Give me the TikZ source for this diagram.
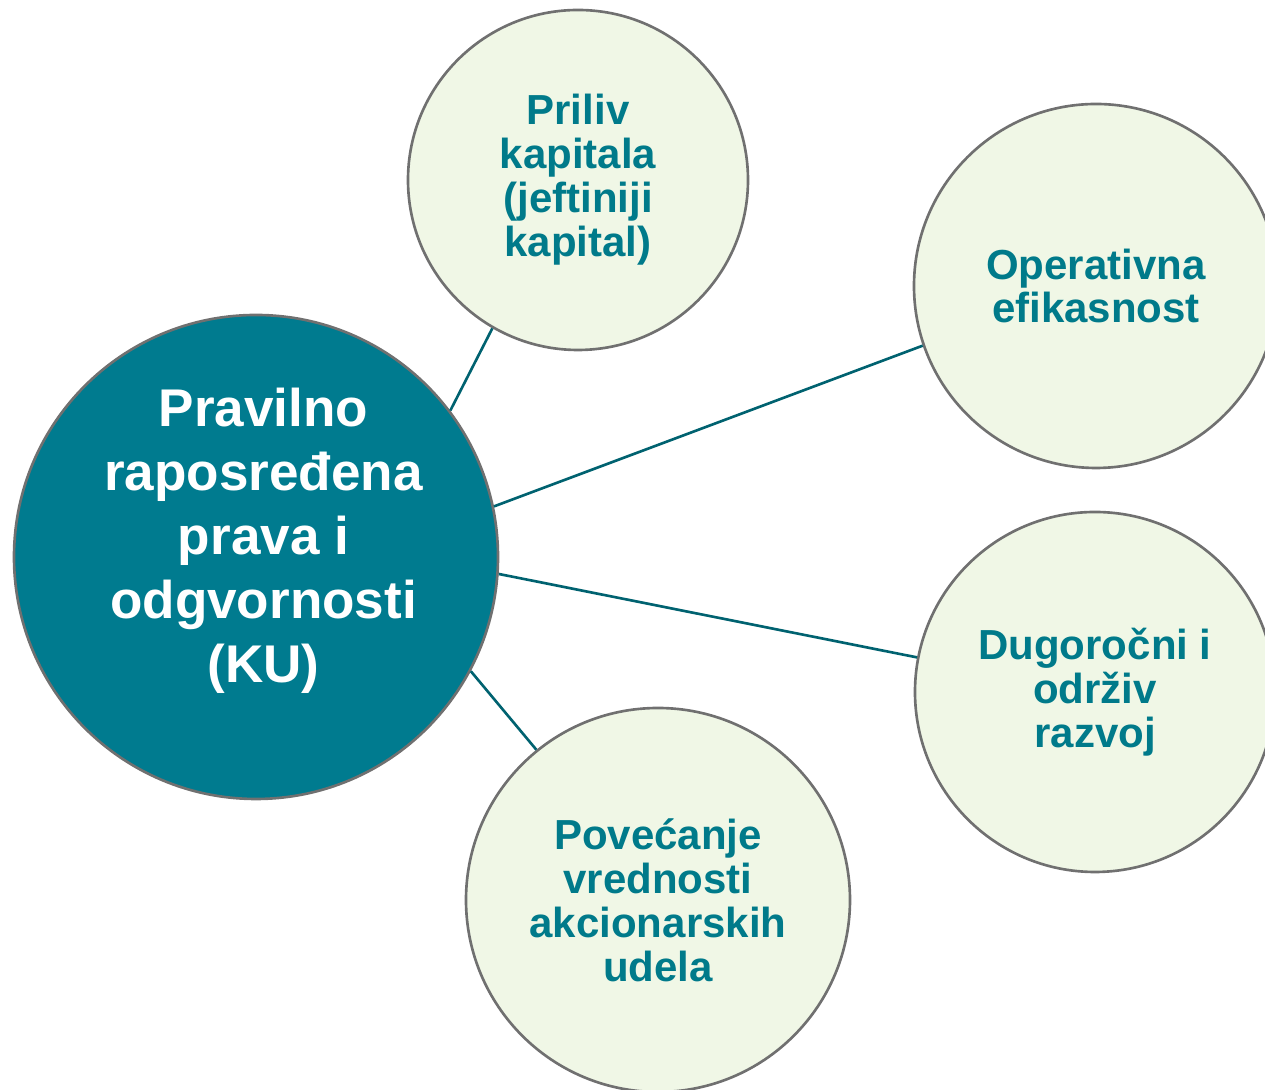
\documentclass[tikz,border=0pt]{standalone}
\usepackage{fontspec}
\setmainfont{Liberation Sans}
\usepackage{tikz}
\usetikzlibrary{positioning}

\definecolor{kuteal}{RGB}{0,123,143}
\definecolor{kutext}{RGB}{0,122,138}
\definecolor{kuline}{RGB}{0,98,112}
\definecolor{kuedge}{RGB}{112,112,112}
\definecolor{kugreen}{RGB}{240,247,230}

\tikzset{
  bigcirc/.style={circle,draw=kuedge,line width=1.5pt,fill=kuteal,inner sep=0pt},
  bigtext/.style={text=white,align=center,font=\bfseries\fontsize{30.2}{36.4}\selectfont},
  smallcirc/.style={circle,draw=kuedge,line width=1.5pt,fill=kugreen,text=kutext,
    inner sep=0pt,align=center,font=\bfseries\fontsize{23.9}{25}\selectfont},
  link/.style={draw=kuline,line width=1.5pt}
}

\begin{document}
\begin{tikzpicture}
\useasboundingbox (0,0) rectangle (25.3,21.8);
\clip (0,0) rectangle (25.3,21.8);

% Center circle
\node[bigcirc,minimum size=9.68cm] (ku) at (5.12,10.66) {};
\node[bigtext,xshift=0.15cm,yshift=0.32cm] (kulabel) at (ku)
  {Pravilno\\raposređena\\prava i\\odgvornosti\\(KU)};

% Outer circles
\node[smallcirc,minimum size=6.8cm] (priliv) at (11.56,18.2)
  {Priliv\\kapitala\\(jeftiniji\\kapital)};
\node[smallcirc,minimum size=7.28cm] (oper) at (21.92,16.08)
  {Operativna\\efikasnost};
\node[smallcirc,minimum size=7.2cm] (dug) at (21.9,7.96)
  {Dugoročni i\\održiv\\razvoj};
\node[smallcirc,minimum size=7.68cm] (pov) at (13.16,3.8)
  {Povećanje\\vrednosti\\akcionarskih\\udela};

% Links
\draw[link] (ku.37.6) -- (priliv.240);
\draw[link] (ku.12.4) -- (oper.199.8);
\draw[link] (ku.-4.7) -- (dug.169.2);
\draw[link] (ku.-28.9) -- (pov.129.9);
\end{tikzpicture}
\end{document}
